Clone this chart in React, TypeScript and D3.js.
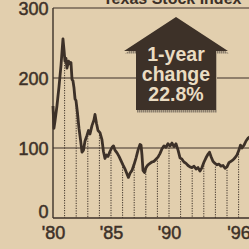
import React, { useRef, useEffect } from 'react';
import * as d3 from 'd3';

// Texas Stock Index (decimal years)
const years = [
  1980.0, 1980.08, 1980.17, 1980.34, 1980.52, 1980.69, 1980.86, 1980.95, 1981.03, 1981.12,
  1981.2, 1981.34, 1981.47, 1981.55, 1981.64, 1981.72, 1981.81, 1981.9, 1981.98, 1982.11,
  1982.24, 1982.37, 1982.5, 1982.63, 1982.76, 1982.93, 1983.06, 1983.19, 1983.36, 1983.53,
  1983.62, 1983.75, 1983.88, 1984.05, 1984.22, 1984.35, 1984.48, 1984.61, 1984.74, 1984.91,
  1985.09, 1985.22, 1985.34, 1985.52, 1985.69, 1985.86, 1986.03, 1986.21, 1986.38, 1986.5,
  1986.64, 1986.81, 1986.98, 1987.16, 1987.33, 1987.5, 1987.59, 1987.67, 1987.76, 1987.89,
  1988.02, 1988.19, 1988.36, 1988.53, 1988.71, 1988.88, 1989.05, 1989.22, 1989.4, 1989.57,
  1989.74, 1989.91, 1990.09, 1990.26, 1990.43, 1990.6, 1990.78, 1990.95, 1991.12, 1991.29,
  1991.47, 1991.64, 1991.81, 1991.98, 1992.16, 1992.33, 1992.5, 1992.67, 1992.84, 1993.02,
  1993.19, 1993.36, 1993.49, 1993.62, 1993.79, 1993.97, 1994.14, 1994.31, 1994.48, 1994.66,
  1994.83, 1995.0, 1995.17, 1995.34, 1995.52, 1995.69, 1995.86, 1996.03, 1996.16, 1996.29,
  1996.47, 1996.64, 1996.81, 1996.98,
];
const values = [
  160, 128, 138, 160, 188, 218, 256, 240, 224, 228,
  214, 224, 220, 222, 198, 196, 186, 170, 168, 150,
  128, 112, 94, 97, 110, 118, 125, 120, 132, 140,
  148, 135, 125, 122, 112, 95, 85, 90, 88, 95,
  101, 103, 97, 93, 88, 82, 76, 70, 63, 58,
  64, 68, 76, 86, 97, 105, 104, 90, 68, 65,
  72, 76, 78, 80, 81, 84, 87, 92, 99, 103,
  101, 106, 103, 107, 102, 106, 97, 86, 84, 80,
  78, 75, 73, 72, 74, 70, 72, 67, 72, 80,
  86, 91, 94, 88, 81, 78, 76, 77, 74, 75,
  71, 73, 79, 81, 83, 86, 90, 97, 104, 100,
  104, 110, 114, 116,
];
const yTicks = [0, 100, 200, 300];
const xLabels = [1980, 1985, 1990, 1996];
const dropYears = d3.range(1981, 1997);
const title = 'Texas Stock Index';
const badge = ['1-year', 'change', '22.8%'];

const BG = '#e2cfae';
const INK = '#3d3128';

const App: React.FC = () => {
  const svgRef = useRef<SVGSVGElement | null>(null);

  useEffect(() => {
    if (!svgRef.current) return;
    const svg = d3.select(svgRef.current);
    svg.selectAll('*').remove();

    const width = 249;
    const height = 249;
    const x = d3.scaleLinear().domain([1980, 1997]).range([53, 250.2]);
    const y = d3.scaleLinear().domain([0, 300]).range([218, 8]);

    svg.append('rect').attr('width', width).attr('height', height).attr('fill', BG);

    const defs = svg.append('defs');
    const pat = defs.append('pattern')
      .attr('id', 'dots')
      .attr('width', 2).attr('height', 2)
      .attr('patternUnits', 'userSpaceOnUse');
    pat.append('rect').attr('width', 2).attr('height', 2).attr('fill', '#b3a48c');
    pat.append('rect').attr('width', 1).attr('height', 1).attr('fill', '#5e5247');

    // title (cut off at top)
    svg.append('text')
      .attr('x', 103).attr('y', 4)
      .attr('font-family', 'Liberation Sans, Arial, sans-serif')
      .attr('font-weight', 'bold')
      .attr('font-size', 16)
      .attr('fill', INK)
      .text(title);

    // gridlines
    svg.selectAll('.grid')
      .data(yTicks)
      .enter().append('line')
      .attr('class', 'grid')
      .attr('x1', x(1980)).attr('x2', width)
      .attr('y1', d => y(d)).attr('y2', d => y(d))
      .attr('stroke', INK)
      .attr('stroke-width', d => (d === 0 ? 1.4 : 1.1));

    // left axis
    svg.append('line')
      .attr('x1', x(1980)).attr('x2', x(1980))
      .attr('y1', y(300)).attr('y2', y(0))
      .attr('stroke', INK).attr('stroke-width', 1.4);

    // y labels
    svg.selectAll('.ylab')
      .data(yTicks)
      .enter().append('text')
      .attr('class', 'ylab')
      .attr('x', 48.5)
      .attr('y', d => (d === 0 ? y(0) - 0.5 : y(d) + 6.5))
      .attr('text-anchor', 'end')
      .attr('font-family', 'Liberation Sans, Arial, sans-serif')
      .attr('font-size', 18)
      .attr('fill', INK)
      .attr('stroke', INK)
      .attr('stroke-width', 0.5)
      .text(d => String(d));

    // x labels
    svg.selectAll('.xlab')
      .data(xLabels)
      .enter().append('text')
      .attr('class', 'xlab')
      .attr('x', d => x(d) + 0.5)
      .attr('y', 239)
      .attr('text-anchor', 'middle')
      .attr('font-family', 'Liberation Sans, Arial, sans-serif')
      .attr('font-size', 18)
      .attr('fill', INK)
      .attr('stroke', INK)
      .attr('stroke-width', 0.5)
      .text(d => `'${String(d).slice(2)}`);

    // dotted drop lines at each year
    const bis = d3.bisector((d: number) => d).left;
    const valueAt = (t: number) => {
      const i = Math.max(1, Math.min(years.length - 1, bis(years, t)));
      const t0 = years[i - 1], t1 = years[i];
      const k = (t - t0) / (t1 - t0);
      return values[i - 1] + k * (values[i] - values[i - 1]);
    };
    svg.selectAll('.drop')
      .data(dropYears)
      .enter().append('line')
      .attr('class', 'drop')
      .attr('x1', d => x(d)).attr('x2', d => x(d))
      .attr('y1', d => y(valueAt(d)) + 3).attr('y2', y(0))
      .attr('stroke', INK)
      .attr('stroke-width', 1)
      .attr('stroke-dasharray', '1.2,1.3');

    // index line
    const line = d3.line<number>()
      .x((d, i) => x(years[i]))
      .y(d => y(d))
      .curve(d3.curveLinear);
    svg.append('path')
      .attr('d', line(values) as string)
      .attr('fill', 'none')
      .attr('stroke', INK)
      .attr('stroke-width', 2.8)
      .attr('stroke-linejoin', 'round');

    // up arrow badge
    const arrowPts: [number, number][] = [
      [176, 17], [228, 51], [216, 51], [216, 110], [136, 110], [136, 51], [124, 51],
    ];
    const arrowPath = 'M' + arrowPts.map(p => p.join(',')).join('L') + 'Z';
    svg.append('path')
      .attr('d', arrowPath)
      .attr('transform', 'translate(1,2.5)')
      .attr('fill', 'url(#dots)');
    svg.append('path')
      .attr('d', arrowPath)
      .attr('fill', INK);

    svg.selectAll('.badge')
      .data(badge)
      .enter().append('text')
      .attr('class', 'badge')
      .attr('x', 176)
      .attr('y', (d, i) => 61 + i * 20)
      .attr('text-anchor', 'middle')
      .attr('font-family', 'Liberation Sans, Arial, sans-serif')
      .attr('font-weight', 'bold')
      .attr('font-size', 19.5)
      .attr('fill', '#eadcc2')
      .text(d => d);
  }, []);

  return (
    <svg
      ref={svgRef}
      width={249}
      height={249}
      style={{ position: 'fixed', left: 0, top: 0, display: 'block' }}
    />
  );
};

export default App;
